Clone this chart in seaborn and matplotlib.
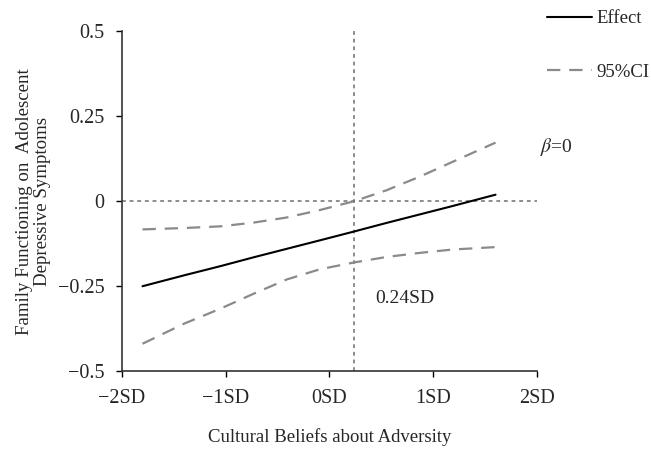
import numpy as np
import pandas as pd
import seaborn as sns
import matplotlib.pyplot as plt
from matplotlib.lines import Line2D

# values (x in SD units of cultural beliefs)
x_sd = [-1.8, -1.4, -1.05, -0.73, -0.41, -0.09, 0.24, 0.55, 0.87, 1.19, 1.6]
effect = [-0.250, -0.218, -0.191, -0.165, -0.140, -0.115, -0.089, -0.064, -0.039, -0.014, 0.019]
ci_upper = [-0.083, -0.079, -0.074, -0.063, -0.048, -0.026, 0.0, 0.032, 0.072, 0.116, 0.172]
ci_lower = [-0.419, -0.360, -0.316, -0.272, -0.230, -0.200, -0.180, -0.164, -0.152, -0.142, -0.135]

x_ticks = [-2, -1, 0, 1, 2]
x_ticklabels = ["\u22122SD", "\u22121SD", "0SD", "1SD", "2SD"]
y_ticks = [-0.5, -0.25, 0, 0.25, 0.5]
y_ticklabels = ["\u22120.5", "\u22120.25", "0", "0.25", "0.5"]
jn_point = 0.24

df = pd.DataFrame({
    "x": x_sd * 3,
    "y": effect + ci_upper + ci_lower,
    "series": ["Effect"] * len(x_sd) + ["upper"] * len(x_sd) + ["lower"] * len(x_sd),
})

sns.set_style("white")
plt.rcParams["font.family"] = ["Liberation Serif", "DejaVu Serif"]
plt.rcParams["mathtext.fontset"] = "stix"

fig = plt.figure(figsize=(6.51, 4.49), dpi=100)
ax = fig.add_axes([0.187, 0.173, 0.638, 0.758])

# reference lines
ax.axhline(0, color="#6e6e6e", lw=1.1, ls=(0, (2.5, 2.5)), zorder=1)
ax.axvline(jn_point, color="#6e6e6e", lw=1.1, ls=(0, (2.5, 2.5)), zorder=1)

sns.lineplot(data=df[df.series == "Effect"], x="x", y="y", color="black", lw=1.5, ax=ax)
sns.lineplot(data=df[df.series == "upper"], x="x", y="y", color="#8a8a8a", lw=1.6,
             ls=(0, (6, 4)), ax=ax)
sns.lineplot(data=df[df.series == "lower"], x="x", y="y", color="#8a8a8a", lw=1.6,
             ls=(0, (6, 4)), ax=ax)

ax.set_xlim(-2, 2)
ax.set_ylim(-0.5, 0.5)
ax.set_xticks(x_ticks)
ax.set_xticklabels(x_ticklabels, fontsize=14.5)
ax.set_yticks(y_ticks)
ax.set_yticklabels(y_ticklabels, fontsize=14.5)
ax.tick_params(axis="both", direction="out", length=4.5, width=1, color="black",
               bottom=True, left=True)
ax.tick_params(axis="y", pad=8)
ax.tick_params(axis="x", pad=8)
for s in ["top", "right"]:
    ax.spines[s].set_visible(False)
for s in ["left", "bottom"]:
    ax.spines[s].set_color("#333333")
    ax.spines[s].set_linewidth(1.2)

ax.set_xlabel("Cultural Beliefs about Adversity", fontsize=13.5, labelpad=15)
ax.set_ylabel("Family Functioning on  Adolescent\nDepressive Symptoms", fontsize=13.6,
              labelpad=5, linespacing=1.1)

ax.text(2.03, 0.158, r"$\beta$=0", fontsize=14, va="center", ha="left")
ax.text(jn_point + 0.2, -0.286, "0.24SD", fontsize=14, va="center", ha="left")

handles = [Line2D([], [], color="black", lw=1.5),
           Line2D([], [], color="#8a8a8a", lw=1.6, ls=(0, (6, 4)))]
fig.legend(handles, ["Effect", "95%CI"], loc="upper left", bbox_to_anchor=(0.814, 1.015),
           frameon=False, fontsize=13.5, handlelength=2.4, handletextpad=0.27,
           labelspacing=1.95)

fig.savefig("out.png", dpi=100)
